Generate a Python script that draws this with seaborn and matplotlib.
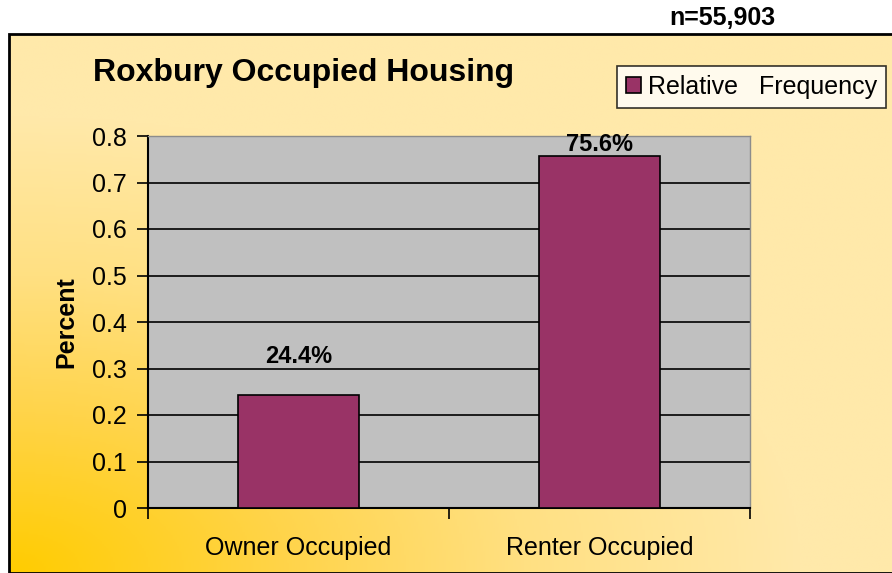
import matplotlib
matplotlib.use("Agg")
import matplotlib.pyplot as plt
import matplotlib.colors as mcolors
from matplotlib.patches import Rectangle
import numpy as np
import pandas as pd
import seaborn as sns

# data
categories = ["Owner Occupied", "Renter Occupied"]
values = [0.244, 0.756]
value_labels = ["24.4%", "75.6%"]
series_name = "Relative   Frequency"
y_ticks = [0, 0.1, 0.2, 0.3, 0.4, 0.5, 0.6, 0.7, 0.8]

BAR_COLOR = "#993366"
PLOT_BG = "#C0C0C0"
FONT = ["Liberation Sans", "DejaVu Sans"]

sns.set_style("white")
plt.rcParams.update({
    "font.family": FONT,
    "text.color": "black",
    "axes.labelcolor": "black",
    "xtick.color": "black",
    "ytick.color": "black",
})

W, H = 892, 573
fig = plt.figure(figsize=(W / 100, H / 100), dpi=100)
fig.patch.set_facecolor("white")

# yellow gradient panel behind the chart
px0, ptop = 9, 34
bg = fig.add_axes([px0 / W, 0, 1 - px0 / W, (H - ptop) / H], zorder=0)
gx, gy = np.meshgrid(np.linspace(0, 1, 400), np.linspace(1, 0, 300))
r = np.clip(np.sqrt((gx / 0.9) ** 2 + (gy / 0.85) ** 2), 0, 1)
grad = mcolors.LinearSegmentedColormap.from_list(
    "panel", [(0, "#FFCC00"), (0.35, "#FFD44A"), (0.65, "#FFE082"), (1, "#FFE9AA")])
bg.imshow(grad(r), aspect="auto", extent=[0, 1, 0, 1])
bg.set_axis_off()
bg.add_patch(Rectangle((0, 0), 1.2, 1, transform=bg.transAxes, fill=False,
                       edgecolor="black", linewidth=2, clip_on=False))

# plot area
ax = fig.add_axes([148 / W, (H - 508) / H, (750 - 148) / W, (508 - 136) / H], zorder=1)
ax.set_facecolor(PLOT_BG)

df = pd.DataFrame({"category": categories, "value": values,
                   "series": [series_name] * len(categories)})
sns.barplot(data=df, x="category", y="value", hue="series",
            palette=[BAR_COLOR], width=0.4, edgecolor="black",
            linewidth=1.2, saturation=1, ax=ax, zorder=3)

ax.set_ylim(0, 0.8)
ax.set_xlim(-0.5, 1.5)
ax.set_yticks(y_ticks)
ax.set_yticklabels([f"{t:g}" for t in y_ticks])
ax.yaxis.grid(True, color="black", linewidth=1.2)
ax.set_axisbelow(True)

ax.set_xticks(range(len(categories)))
ax.set_xticklabels(categories)
ax.set_xticks([-0.5, 0.5, 1.5], minor=True)
ax.tick_params(axis="x", which="major", length=0, pad=20, labelsize=18)
ax.tick_params(axis="x", which="minor", length=8, width=1.2, direction="out",
               color="black", bottom=True)
ax.tick_params(axis="y", length=8, width=1.2, direction="out", color="black",
               left=True, pad=7, labelsize=18)

for side in ["left", "bottom"]:
    ax.spines[side].set_color("black")
    ax.spines[side].set_linewidth(1.5)
for side in ["top", "right"]:
    ax.spines[side].set_color("#8C8C8C")
    ax.spines[side].set_linewidth(1)

ax.set_xlabel("")
ax.set_ylabel("Percent", fontsize=18, fontweight="bold", labelpad=10)

# value labels above the bars
label_offsets = [19, 0]
for i, (v, txt) in enumerate(zip(values, value_labels)):
    ax.annotate(txt, (i, v), xytext=(0, label_offsets[i]), textcoords="offset points",
                ha="center", va="bottom", fontsize=17, fontweight="bold", zorder=5)

# legend
ax.legend(loc="center left", bbox_to_anchor=(617 / W, (H - 87) / H),
          bbox_transform=fig.transFigure, frameon=True, fancybox=False,
          edgecolor="black", fontsize=18, handlelength=0.6, handleheight=0.6,
          handletextpad=0.3, borderpad=0.35, borderaxespad=0)
leg = ax.get_legend()
leg.get_frame().set_linewidth(1.2)

fig.text(93 / W, (H - 73) / H, "Roxbury Occupied Housing", fontsize=23,
         fontweight="bold", ha="left", va="center")
fig.text(775 / W, (H - 18) / H, "n=55,903", fontsize=18, fontweight="bold",
         ha="right", va="center")

fig.savefig("out.png", dpi=100)
